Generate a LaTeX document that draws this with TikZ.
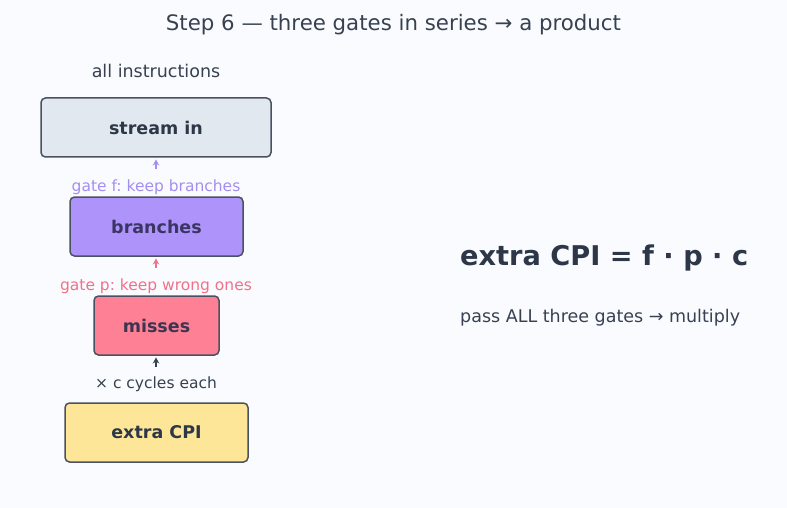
\documentclass[tikz,border=0pt]{standalone}
\usepackage{fontspec}
\setmainfont{DejaVu Sans}
\frenchspacing
\usetikzlibrary{arrows.meta}
\definecolor{bg}{HTML}{FAFBFE}
\definecolor{ink}{HTML}{374151}
\definecolor{edge}{HTML}{4A5160}
\definecolor{boxA}{HTML}{E2E8F0}
\definecolor{boxB}{HTML}{AE94FA}
\definecolor{boxC}{HTML}{FE8095}
\definecolor{boxD}{HTML}{FDE698}
\definecolor{gatef}{HTML}{A48EF0}
\definecolor{gatep}{HTML}{F0728A}
\definecolor{dark}{HTML}{2D3748}
\definecolor{textB}{HTML}{3B3563}
\definecolor{textC}{HTML}{3D3550}
\tikzset{
  blk/.style={draw=edge, line width=1.5pt, rounded corners=4.5pt, inner sep=0pt, font=\bfseries\fontsize{17.5}{21}\selectfont, text=dark},
  lbl/.style={font=\fontsize{15.5}{18}\selectfont, inner sep=0pt},
  arr/.style={-{Stealth[length=6pt,width=6.5pt,inset=2pt]}, line width=1.3pt}
}
\begin{document}
\begin{tikzpicture}[x=1pt,y=-1pt]
\fill[bg] (0,0) rectangle (787,508);
\useasboundingbox (0,0) rectangle (787,508);
\node[font=\fontsize{21.3}{25}\selectfont, text=ink] (title) at (393.5,25) {Step 6 — three gates in series → a product};
\node[lbl, text=ink, font=\fontsize{17.5}{20}\selectfont] (all) at (156,71) {all instructions};
\node[blk, fill=boxA, minimum width=230pt, minimum height=59pt] (s) at (156,127.5) {stream in};
\node[blk, fill=boxB, minimum width=173pt, minimum height=59pt, text=textB] (b) at (156.5,226.5) {branches};
\node[blk, fill=boxC, minimum width=125pt, minimum height=59pt, text=textC] (m) at (156.5,325.5) {misses};
\node[blk, fill=boxD, minimum width=183pt, minimum height=59pt] (e) at (156.5,432.5) {extra CPI};
\node[lbl, text=gatef] (gf) at (156,187) {gate f: keep branches};
\node[lbl, text=gatep] (gp) at (156,286) {gate p: keep wrong ones};
\node[lbl, text=ink] (gc) at (156,384) {× c cycles each};
\coordinate (gft) at (156,169);
\coordinate (gpt) at (156,268);
\coordinate (gct) at (156,367);
\coordinate (st) at (156,159.5);
\coordinate (bt) at (156,258.5);
\coordinate (mt) at (156,357.5);
\draw[arr, gatef] (gft) -- (st);
\draw[arr, gatep] (gpt) -- (bt);
\draw[arr, ink] (gct) -- (mt);
\node[anchor=west, font=\bfseries\fontsize{27.2}{32}\selectfont, text=dark, inner sep=0pt] (eq) at (460,258) {extra CPI = f · p · c};
\node[anchor=west, font=\fontsize{17.5}{20}\selectfont, text=ink, inner sep=0pt] (pa) at (460,318) {pass ALL three gates → multiply};
\end{tikzpicture}
\end{document}
